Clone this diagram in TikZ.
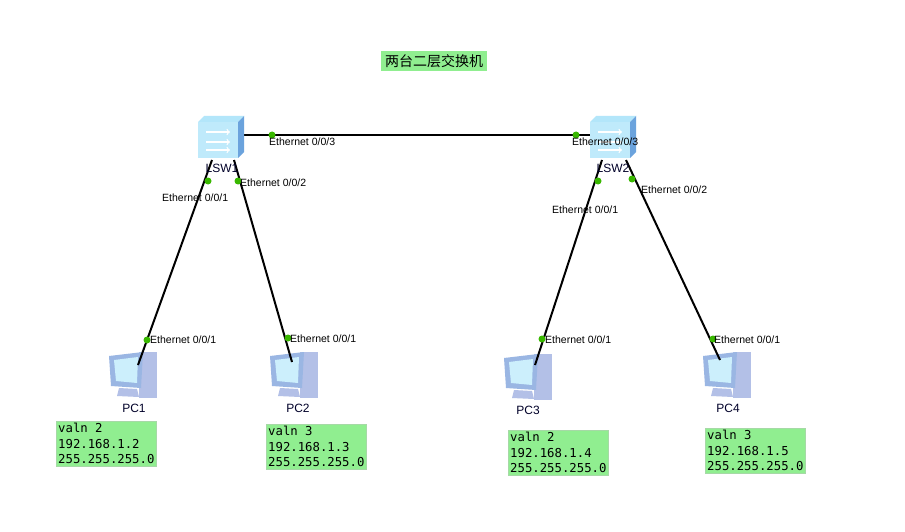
\documentclass[tikz,border=0pt]{standalone}
\usepackage{fontspec}
\setmainfont{Liberation Sans}
\newfontfamily\cjk{Noto Sans CJK SC}
\newfontfamily\mono{DejaVu Sans Mono}
\definecolor{lgreen}{RGB}{144,238,144}
\begin{document}
\begin{tikzpicture}[x=1pt,y=-1pt,
  lnk/.style={line width=2pt,black},
  dot/.style={circle,fill=green!60!black!70!lime,inner sep=0pt,minimum size=7pt},
  eth/.style={font=\fontsize{10.5}{11}\selectfont,inner sep=0pt,anchor=west},
  info/.style={fill=lgreen,draw=green!40!gray!50,inner sep=2pt,align=left,anchor=north west,font=\mono\fontsize{12.3}{15.5}\selectfont},
  lab/.style={font=\fontsize{12}{12}\selectfont,text=black!60!blue!40!black}]
\useasboundingbox (0,0) rectangle (905,532);
\fill[white] (0,0) rectangle (905,532);
\newcommand\swicon[2]{%
 \begin{scope}[shift={(#1,#2)}]
  \fill[cyan!30] (-22,-14) -- (-16,-20) -- (24,-20) -- (18,-14) -- cycle;
  \fill[cyan!60!blue!60] (18,-14) -- (24,-20) -- (24,16) -- (18,22) -- cycle;
  \fill[cyan!25] (-22,-14) rectangle (18,22);
  \foreach \yy in {-4,6,14}{\draw[white,line width=1.3pt,->] (-14,\yy) -- (10,\yy);}
 \end{scope}}
\newcommand\pcicon[2]{%
 \begin{scope}[shift={(#1,#2)}]
  \fill[cyan!40!blue!30] (6,-22) rectangle (24,24);
  \fill[cyan!50!blue!40] (-24,-18) -- (10,-22) -- (8,14) -- (-22,12) -- cycle;
  \fill[cyan!20] (-19,-14) -- (5,-17) -- (4,9) -- (-17,7) -- cycle;
  \fill[cyan!40!blue!30] (-14,14) -- (4,15) -- (6,23) -- (-16,22) -- cycle;
 \end{scope}}
\pcicon{133}{374}
\pcicon{294}{374}
\pcicon{528}{376}
\pcicon{727}{374}
\coordinate (s1a) at (242,135); \coordinate (s2a) at (590,135);
\coordinate (s1b) at (212,160); \coordinate (pc1) at (138,365);
\coordinate (s1c) at (234,160); \coordinate (pc2) at (292,362);
\coordinate (s2b) at (602,160); \coordinate (pc3) at (535,365);
\coordinate (s2c) at (626,160); \coordinate (pc4) at (720,360);
\draw[lnk] (s1a) -- (s2a);
\draw[lnk] (s1b) -- (pc1);
\draw[lnk] (s1c) -- (pc2);
\draw[lnk] (s2b) -- (pc3);
\draw[lnk] (s2c) -- (pc4);
\swicon{220}{136}
\swicon{612}{136}
\node[lab,anchor=north] (l1) at (222,161) {LSW1};
\node[lab,anchor=north] (l2) at (613,161) {LSW2};
\node[lab] (p1) at (134,408) {PC1};
\node[lab] (p2) at (298,408) {PC2};
\node[lab] (p3) at (528,410) {PC3};
\node[lab] (p4) at (728,408) {PC4};
\foreach \p in {(272,135),(576,135),(208,181),(238,181),(147,340),(288,338),(598,181),(632,179),(542,339),(713,339)}
  \node[dot] at \p {};
\node[eth] at (269,142) {Ethernet 0/0/3};
\node[eth] at (572,142) {Ethernet 0/0/3};
\node[eth] at (162,198) {Ethernet 0/0/1};
\node[eth] at (240,183) {Ethernet 0/0/2};
\node[eth] at (552,210) {Ethernet 0/0/1};
\node[eth] at (641,190) {Ethernet 0/0/2};
\node[eth] at (150,340) {Ethernet 0/0/1};
\node[eth] at (290,339) {Ethernet 0/0/1};
\node[eth] at (545,340) {Ethernet 0/0/1};
\node[eth] at (714,340) {Ethernet 0/0/1};
\node[info] (b1) at (56,421) {valn 2\\192.168.1.2\\255.255.255.0};
\node[info] (b2) at (266,424) {valn 3\\192.168.1.3\\255.255.255.0};
\node[info] (b3) at (508,430) {valn 2\\192.168.1.4\\255.255.255.0};
\node[info] (b4) at (705,428) {valn 3\\192.168.1.5\\255.255.255.0};
\node[fill=lgreen,inner xsep=4pt,inner ysep=3pt,font=\cjk\fontsize{14}{16}\selectfont] (t) at (434,61) {两台二层交换机};
\end{tikzpicture}
\end{document}
